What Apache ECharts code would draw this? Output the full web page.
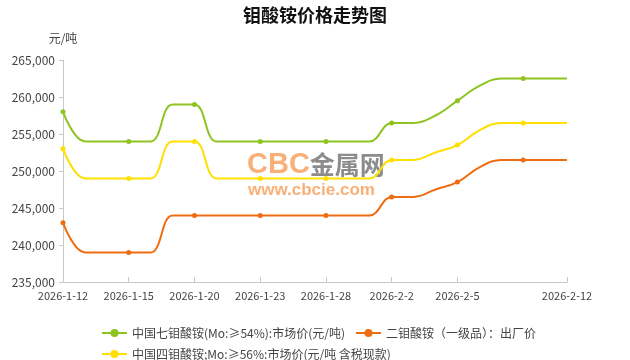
<!DOCTYPE html>
<html>
<head>
<meta charset="utf-8">
<script src="https://cdn.jsdelivr.net/npm/echarts@6/dist/echarts.min.js"></script>
<style>html,body{margin:0;padding:0;background:#fff;}#c{width:630px;height:360px;}</style>
</head>
<body>
<div id="c"></div>
<script>
var dates = ['2026-1-12','2026-1-13','2026-1-14','2026-1-15','2026-1-16','2026-1-19','2026-1-20','2026-1-21','2026-1-22','2026-1-23','2026-1-26','2026-1-27','2026-1-28','2026-1-29','2026-1-30','2026-2-2','2026-2-3','2026-2-4','2026-2-5','2026-2-6','2026-2-9','2026-2-10','2026-2-11','2026-2-12'];
var hepta = [258000,254000,254000,254000,254000,259000,259000,254000,254000,254000,254000,254000,254000,254000,254000,256500,256500,257500,259500,261500,262500,262500,262500,262500];
var di = [243000,239000,239000,239000,239000,244000,244000,244000,244000,244000,244000,244000,244000,244000,244000,246500,246500,247500,248500,250500,251500,251500,251500,251500];
var tetra = [253000,249000,249000,249000,249000,254000,254000,249000,249000,249000,249000,249000,249000,249000,249000,251500,251500,252500,253500,255500,256500,256500,256500,256500];
var labelIdx = [0,3,6,9,12,15,18,23];
var markerIdx = [0,3,6,9,12,15,18,21];
var names = ['中国七钼酸铵(Mo:≥54%):市场价(元/吨)','二钼酸铵（一级品）：出厂价','中国四钼酸铵;Mo:≥56%:市场价(元/吨 含税现款)'];
var colors = ['#8fc31f','#ef6d12','#ffdf00'];

var font = '"Noto Sans CJK SC", "Microsoft YaHei", sans-serif';
function mk(name, data, color) {
  return {
    name: name, type: 'line', data: data, smooth: 0.4,
    symbol: 'circle',
    symbolSize: function (v, p) { return markerIdx.indexOf(p.dataIndex) >= 0 ? 5 : 0; },
    showAllSymbol: true,
    lineStyle: { color: color, width: 2 },
    itemStyle: { color: color },
    z: 3
  };
}
var chart = echarts.init(document.getElementById('c'));
chart.setOption({
  animation: false,
  backgroundColor: '#fff',
  title: { text: '钼酸铵价格走势图', left: 'center', top: 1,
    textStyle: { fontFamily: font, fontSize: 18, fontWeight: 'bold', color: '#111' } },
  grid: { left: 63, right: 63, top: 60, bottom: 78 },
  legend: [
    { data: [names[0], names[1]], left: 96, top: 322, itemWidth: 25, itemHeight: 10, itemGap: 10,
      textStyle: { fontFamily: font, fontSize: 12, color: '#444' } },
    { data: [names[2]], left: 96, top: 343, itemWidth: 25, itemHeight: 10,
      textStyle: { fontFamily: font, fontSize: 12, color: '#444' } }
  ],
  xAxis: {
    type: 'category', data: dates, boundaryGap: false,
    axisLine: { lineStyle: { color: '#c8c8c8' } },
    axisTick: { inside: true, length: 5, lineStyle: { color: '#c8c8c8' },
      interval: function (i) { return labelIdx.indexOf(i) >= 0; } },
    axisLabel: { color: '#444', fontFamily: font, fontSize: 11, margin: 8,
      interval: function (i) { return labelIdx.indexOf(i) >= 0; } },
    splitLine: { show: false }
  },
  yAxis: {
    type: 'value', min: 235000, max: 265000, interval: 5000,
    name: '元/吨', nameGap: 16,
    nameTextStyle: { align: 'center', color: '#444', fontFamily: font, fontSize: 12 },
    axisLine: { show: true, lineStyle: { color: '#c8c8c8' } },
    axisTick: { show: true, length: 4, lineStyle: { color: '#c8c8c8' } },
    axisLabel: { color: '#444', fontFamily: font, fontSize: 12, margin: 8,
      formatter: function (v) { return v.toLocaleString('en-US'); } },
    splitLine: { show: false }
  },
  graphic: [
    { type: 'text', left: 247, top: 150, z: 1, silent: true,
      style: { text: '{a|CBC}{b|金属网}', rich: {
        a: { fontFamily: 'Arial, "Liberation Sans", sans-serif', fontSize: 29, fontWeight: 'bold', fill: '#f8b078' },
        b: { fontFamily: font, fontSize: 25, fontWeight: 'bold', fill: '#8c8c8c' } } } },
    { type: 'text', left: 248, top: 182, z: 1, silent: true,
      style: { text: 'www.cbcie.com', fontFamily: 'Arial, "Liberation Sans", sans-serif', fontSize: 17, fontWeight: 'bold',
        fill: '#f8b078', letterSpacing: 1.7 } }
  ],
  series: [ mk(names[0], hepta, colors[0]), mk(names[1], di, colors[1]), mk(names[2], tetra, colors[2]) ]
});
</script>
</body>
</html>
